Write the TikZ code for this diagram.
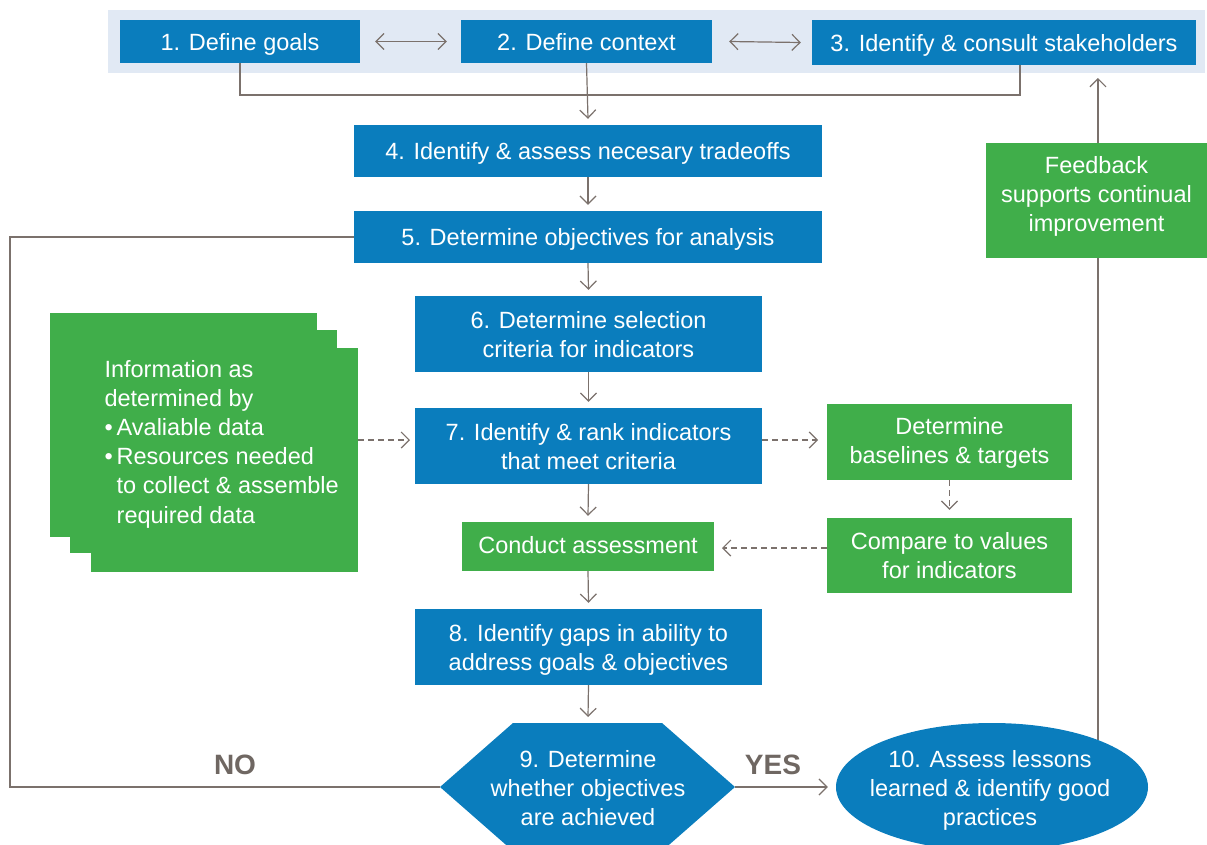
\documentclass[tikz,border=0pt]{standalone}
\usepackage{fontspec}
\setmainfont{Liberation Sans}
\usetikzlibrary{arrows.meta,shapes.geometric}
\definecolor{myblue}{HTML}{0A7DBD}
\definecolor{mygreen}{HTML}{40AE4A}
\definecolor{band}{HTML}{E1E9F4}
\definecolor{lgrey}{HTML}{7B716C}
\definecolor{yesno}{HTML}{6F6762}
\pgfdeclarelayer{bg}
\pgfdeclarelayer{back}
\pgfsetlayers{back,bg,main}
\newcommand\mytxt[2][-3pt]{\raisebox{#1}[\height][\depth]{\begin{tabular}{@{}c@{}}#2\end{tabular}}}
\tikzset{
  bfont/.style={font=\fontsize{23.5}{29}\selectfont},
  bbox/.style={fill=myblue,text=white,inner sep=0pt,bfont},
  gbox/.style={fill=mygreen,text=white,inner sep=0pt,bfont},
  conn/.style={draw=lgrey,line width=1.2pt},
  tip/.tip={Straight Barb[length=8pt,width=16pt,line width=1.2pt]},
  arr/.style={conn,-tip},
  darr/.style={arr,dash pattern=on 6pt off 4pt},
  yn/.style={text=yesno,font=\fontsize{28}{30}\selectfont\bfseries}
}
\begin{document}
\begin{tikzpicture}[x=1pt,y=-1pt]
\useasboundingbox (0,0) rectangle (1207,844);
\begin{pgfonlayer}{back}
\node[fill=band,inner sep=0pt,minimum width=1097pt,minimum height=63pt] (band) at (656.5,41.5) {};
\end{pgfonlayer}
\node[bbox,minimum width=240pt,minimum height=43pt] (b1) at (240,41.5) {\mytxt{1. Define goals}};
\node[bbox,minimum width=251pt,minimum height=43pt] (b2) at (586.5,41.5) {\mytxt{2. Define context}};
\node[bbox,minimum width=384pt,minimum height=45pt] (b3) at (1004,42.5) {\mytxt{3. Identify \& consult stakeholders}};
\node[bbox,minimum width=468pt,minimum height=52pt] (b4) at (588,151) {\mytxt{4. Identify \& assess necesary tradeoffs}};
\node[bbox,minimum width=468pt,minimum height=52pt] (b5) at (588,237) {\mytxt{5. Determine objectives for analysis}};
\node[bbox,minimum width=347pt,minimum height=76pt] (b6) at (588.5,334) {\mytxt{6. Determine selection\\criteria for indicators}};
\node[bbox,minimum width=347pt,minimum height=76pt] (b7) at (588.5,446) {\mytxt{7. Identify \& rank indicators\\that meet criteria}};
\node[gbox,minimum width=252pt,minimum height=49pt] (ca) at (588,546.5) {\mytxt[-1pt]{Conduct assessment}};
\node[bbox,minimum width=347pt,minimum height=76pt] (b8) at (588.5,647) {\mytxt{8. Identify gaps in ability to\\address goals \& objectives}};
% hexagon 9
\fill[myblue] (513,723) -- (662,723) -- (735,787) -- (662,851) -- (513,851) -- (440,787) -- cycle;
\coordinate (h9l) at (440,787);
\coordinate (h9r) at (735,787);
\coordinate (h9t) at (588,723);
\node[text=white,inner sep=0pt,bfont] (n9) at (588,788) {\mytxt{9. Determine\\whether objectives\\are achieved}};
\node[ellipse,fill=myblue,inner sep=0pt,minimum width=312pt,minimum height=128pt] (n10) at (992,787) {};
\node[text=white,inner sep=0pt,bfont] (t10) at (990,788) {\mytxt{10. Assess lessons\\learned \& identify good\\practices}};
\node[gbox,minimum width=221pt,minimum height=115pt] (fb) at (1096.5,200.5) {\mytxt[4pt]{Feedback\\supports continual\\improvement}};
\node[gbox,minimum width=245pt,minimum height=76pt] (bt) at (949.5,442) {\mytxt[-1.5pt]{Determine\\baselines \& targets}};
\node[gbox,minimum width=245pt,minimum height=75pt] (cv) at (949.5,555.5) {\mytxt[-3pt]{Compare to values\\for indicators}};
% stacked info box
\fill[mygreen] (50,313) rectangle (317,537);
\fill[mygreen] (70,330) rectangle (337,553);
\node[fill=mygreen,inner sep=0pt,minimum width=267pt,minimum height=224pt] (info) at (224.5,460) {};
\node[text=white,align=left,anchor=west,font=\fontsize{23.5}{29.2}\selectfont] (infot) at (101,444) {Information as\\determined by\\\textbullet\,Avaliable data\\\textbullet\,Resources needed\\\hphantom{\textbullet\,}to collect \& assemble\\\hphantom{\textbullet\,}required data};
\node[yn] (no) at (235,765) {NO};
\node[yn] (yes) at (773,765) {YES};
\begin{pgfonlayer}{bg}
\draw[conn,tip-tip] ([xshift=15pt]b1.east) -- ([xshift=-14pt]b2.west);
\draw[conn,tip-tip] ([xshift=17pt]b2.east) -- ([xshift=-11pt]b3.west);
\coordinate (b3s) at (1020,65);
\draw[conn] (b1.south) -- (240,95) -| (b3s);
\draw[arr] (b2.south) -- ([yshift=6pt]b4.north);
\draw[arr] (b4.south) -- ([yshift=6pt]b5.north);
\draw[arr] (b5.south) -- ([yshift=6pt]b6.north);
\draw[arr] (b6.south) -- ([yshift=6pt]b7.north);
\draw[arr] (b7.south) -- ([yshift=6pt]ca.north);
\draw[arr] (ca.south) -- ([yshift=6pt]b8.north);
\draw[arr] (b8.south) -- ([yshift=6pt]h9t);
\draw[arr] (h9r) -- ([xshift=-8pt]n10.west);
\draw[conn] (h9l) -- (10,787) |- (b5.west);
\coordinate (fbtop) at (1099,78);
\draw[arr] (n10.24) -- (n10.24 |- fbtop);
\coordinate (d1) at (410,440);
\coordinate (d2) at (818,440);
\coordinate (d4) at (722,548);
\draw[darr] (info.east |- d1) -- (d1);
\draw[darr] (b7.east |- d2) -- (d2);
\draw[darr] (bt.south) -- ([yshift=8pt]cv.north);
\draw[darr] (cv.west |- d4) -- (d4);
\end{pgfonlayer}
\end{tikzpicture}
\end{document}
